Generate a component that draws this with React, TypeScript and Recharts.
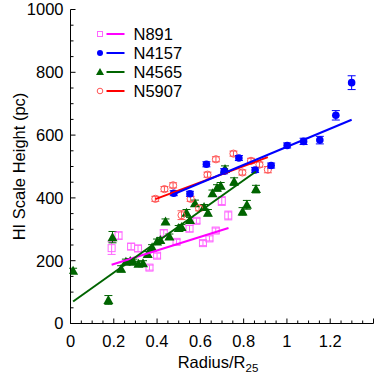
import React from "react";
import { ScatterChart, Scatter, XAxis, YAxis, ErrorBar, Legend } from "recharts";

// ---- data ----
const n891X = [0.19, 0.222, 0.28, 0.312, 0.365, 0.4, 0.431, 0.49, 0.55, 0.582, 0.612, 0.642, 0.671, 0.699, 0.729];
const n891Y = [240, 280, 245, 239, 178, 216, 288, 260, 302, 327, 256, 271, 296, 390, 344];
const n891E = [20, 12, 10, 10, 8, 8, 10, 8, 10, 8, 8, 8, 8, 14, 14];

const n4157X = [0.477, 0.552, 0.628, 0.71, 0.778, 0.853, 0.927, 1.001, 1.077, 1.152, 1.226, 1.299];
const n4157Y = [415, 413, 507, 485, 527, 489, 503, 567, 580, 584, 663, 767];
const n4157E = [8, 8, 8, 8, 8, 8, 8, 8, 10, 12, 15, 22];

const n4565X = [0.012, 0.175, 0.194, 0.234, 0.256, 0.276, 0.291, 0.314, 0.335, 0.357, 0.377, 0.4, 0.415, 0.439, 0.457, 0.5, 0.513, 0.536, 0.552, 0.575, 0.617, 0.635, 0.656, 0.677, 0.694, 0.714, 0.756, 0.795, 0.815, 0.857];
const n4565Y = [168, 75, 275, 174, 197, 199, 197, 190, 192, 221, 243, 261, 266, 325, 277, 304, 307, 353, 330, 383, 371, 353, 415, 432, 439, 492, 452, 357, 378, 428];
const n4565E = [8, 14, 18, 10, 8, 8, 8, 8, 8, 8, 8, 8, 8, 8, 8, 8, 8, 10, 8, 10, 8, 10, 10, 10, 10, 10, 12, 12, 14, 12];

const n5907X = [0.392, 0.434, 0.474, 0.513, 0.555, 0.594, 0.633, 0.672, 0.753, 0.794, 0.834, 0.873, 0.912];
const n5907Y = [397, 428, 440, 345, 397, 367, 474, 523, 541, 481, 518, 506, 490];
const n5907E = [8, 8, 8, 14, 8, 8, 8, 8, 8, 8, 8, 8, 10];

// linear fits: [x0, y0, x1, y1]
const fitN891 = [0.19, 187, 0.73, 304];
const fitN4157 = [0.47, 410, 1.299, 649];
const fitN4565 = [0.012, 70, 0.857, 484];
const fitN5907 = [0.392, 396, 0.912, 530];

const xMajorTicks = [0, 0.2, 0.4, 0.6, 0.8, 1, 1.2];
const yMajorTicks = [0, 200, 400, 600, 800, 1000];

const legendNames = ["N891", "N4157", "N4565", "N5907"];

// ---- helpers ----
const toPts = (xs: number[], ys: number[], es: number[]) => xs.map((x, i) => ({ x, y: ys[i], e: es[i] }));
const toLine = (f: number[]) => [{ x: f[0], y: f[1] }, { x: f[2], y: f[3] }];

const xTicks: number[] = [];
for (let i = 0; i <= 28; i++) xTicks.push(Math.round(i * 5) / 100);
const yTicks: number[] = [];
for (let i = 0; i <= 20; i++) yTicks.push(i * 50);

const FONT = "'Liberation Sans', Arial, Helvetica, sans-serif";
const FS = 16.5;
const MAJ = 5;
const MIN = 3;

const isXMajor = (v: number) => Math.round(v * 100) % 20 === 0;
const isYMajor = (v: number) => Math.round(v) % 200 === 0;
const fmtX = (v: number) => String(Math.round(v * 10) / 10);

const BottomTick = (p: any) => {
  const v = p.payload.value;
  const maj = isXMajor(v);
  const showLabel = maj && xMajorTicks.some((t) => Math.abs(t - v) < 1e-6);
  return (
    <g>
      <line x1={p.x} x2={p.x} y1={p.y} y2={p.y - (maj ? MAJ : MIN)} stroke="#000" strokeWidth={1} />
      {showLabel && (
        <text x={p.x} y={p.y + 23.5} textAnchor="middle" fontFamily={FONT} fontSize={FS} fill="#000">
          {fmtX(v)}
        </text>
      )}
    </g>
  );
};
const TopTick = (p: any) => {
  const v = p.payload.value;
  const maj = isXMajor(v);
  return <line x1={p.x} x2={p.x} y1={p.y} y2={p.y + (maj ? MAJ : MIN)} stroke="#000" strokeWidth={1} />;
};
const LeftTick = (p: any) => {
  const v = p.payload.value;
  const maj = isYMajor(v);
  const showLabel = maj && yMajorTicks.includes(Math.round(v));
  return (
    <g>
      <line x1={p.x} x2={p.x + (maj ? MAJ : MIN)} y1={p.y} y2={p.y} stroke="#000" strokeWidth={1} />
      {showLabel && (
        <text x={p.x - 7} y={p.y} dy="0.36em" textAnchor="end" fontFamily={FONT} fontSize={FS} fill="#000">
          {Math.round(v)}
        </text>
      )}
    </g>
  );
};
const RightTick = (p: any) => {
  const v = p.payload.value;
  const maj = isYMajor(v);
  return <line x1={p.x} x2={p.x - (maj ? MAJ : MIN)} y1={p.y} y2={p.y} stroke="#000" strokeWidth={1} />;
};

const SquareShape = (p: any) => (
  <rect x={p.cx - 3.5} y={p.cy - 3.5} width={7} height={7} fill="none" stroke="#ff66ff" strokeWidth={1} />
);
const BlueShape = (p: any) => <circle cx={p.cx} cy={p.cy} r={3.8} fill="#0000ff" stroke="none" />;
const TriShape = (p: any) => (
  <path d={`M${p.cx},${p.cy - 5} L${p.cx + 5},${p.cy + 4} L${p.cx - 5},${p.cy + 4} Z`} fill="#006400" stroke="none" />
);
const RedShape = (p: any) => (
  <circle cx={p.cx} cy={p.cy} r={3.6} fill="none" stroke="#ff5555" strokeWidth={1} />
);
const NoShape = () => <g />;

const LegendContent = () => {
  const rowY = [34, 53, 72, 91];
  const colors = ["#ff00ff", "#0000ff", "#006400", "#ff0000"];
  const markers = [
    (y: number) => <rect x={97.5} y={y - 2.5} width={5} height={5} fill="none" stroke="#ff66ff" strokeWidth={1} />,
    (y: number) => <circle cx={100} cy={y} r={3} fill="#0000ff" />,
    (y: number) => <path d={`M100,${y - 4} L104,${y + 3} L96,${y + 3} Z`} fill="#006400" />,
    (y: number) => <circle cx={100} cy={y} r={2.8} fill="none" stroke="#ff5555" strokeWidth={1} />,
  ];
  return (
    <svg width={374} height={110} style={{ position: "absolute", left: 0, top: 0 }}>
      {legendNames.map((n, i) => (
        <g key={n}>
          {markers[i](rowY[i])}
          <line x1={106.5} x2={124.5} y1={rowY[i]} y2={rowY[i]} stroke={colors[i]} strokeWidth={2} />
          <text x={133.5} y={rowY[i]} dy="0.36em" fontFamily={FONT} fontSize={FS} fill="#000">
            {n}
          </text>
        </g>
      ))}
    </svg>
  );
};

const XTitle = (p: any) => {
  const vb = p.viewBox;
  const cx = vb.x + vb.width / 2;
  return (
    <text x={cx - 4} y={368} textAnchor="middle" fontFamily={FONT} fontSize={FS} fill="#000">
      Radius/R
      <tspan fontSize={11.5} dy={4}>25</tspan>
    </text>
  );
};
const YTitle = (p: any) => {
  const vb = p.viewBox;
  const cy = vb.y + vb.height / 2;
  return (
    <text
      x={24.5}
      y={cy}
      transform={`rotate(-90, 24.5, ${cy})`}
      textAnchor="middle"
      fontFamily={FONT}
      fontSize={FS}
      fill="#000"
    >
      HI Scale Height (pc)
    </text>
  );
};

export default function App() {
  return (
    <div style={{ position: "absolute", left: 0, top: 0 }}>
      <ScatterChart width={374} height={377} margin={{ top: 9.5, right: 0.5, left: 0, bottom: 0 }}>
        <XAxis
          dataKey="x"
          type="number"
          domain={[0, 1.4]}
          ticks={xTicks}
          interval={0}
          tickSize={0}
          tickMargin={0}
          height={53.5}
          axisLine={{ stroke: "#000", strokeWidth: 1 }}
          tickLine={false}
          tick={<BottomTick />}
          allowDataOverflow
          label={{ content: <XTitle /> } as any}
        />
        <XAxis
          xAxisId="top"
          orientation="top"
          type="number"
          domain={[0, 1.4]}
          ticks={xTicks}
          interval={0}
          tickSize={0}
          tickMargin={0}
          height={0}
          axisLine={{ stroke: "#000", strokeWidth: 1 }}
          tickLine={false}
          tick={<TopTick />}
          allowDataOverflow
        />
        <YAxis
          dataKey="y"
          type="number"
          domain={[0, 1000]}
          ticks={yTicks}
          interval={0}
          tickSize={0}
          tickMargin={0}
          width={70.5}
          axisLine={{ stroke: "#000", strokeWidth: 1 }}
          tickLine={false}
          tick={<LeftTick />}
          allowDataOverflow
          label={{ content: <YTitle /> } as any}
        />
        <YAxis
          yAxisId="right"
          orientation="right"
          type="number"
          domain={[0, 1000]}
          ticks={yTicks}
          interval={0}
          tickSize={0}
          tickMargin={0}
          width={0}
          axisLine={{ stroke: "#000", strokeWidth: 1 }}
          tickLine={false}
          tick={<RightTick />}
          allowDataOverflow
        />
        <Legend layout="horizontal" verticalAlign="middle" align="center" wrapperStyle={{ left: 0, top: 0, width: 374, height: 110 }} content={<LegendContent />} />

        <Scatter name="N891" data={toPts(n891X, n891Y, n891E)} shape={<SquareShape />} isAnimationActive={false}>
          <ErrorBar dataKey="e" direction="y" width={4} stroke="#ff66ff" strokeWidth={1} />
        </Scatter>
        <Scatter name="N4565" data={toPts(n4565X, n4565Y, n4565E)} shape={<TriShape />} isAnimationActive={false}>
          <ErrorBar dataKey="e" direction="y" width={4} stroke="#006400" strokeWidth={1} />
        </Scatter>
        <Scatter name="N5907" data={toPts(n5907X, n5907Y, n5907E)} shape={<RedShape />} isAnimationActive={false}>
          <ErrorBar dataKey="e" direction="y" width={4} stroke="#ff5555" strokeWidth={1} />
        </Scatter>
        <Scatter name="N4157" data={toPts(n4157X, n4157Y, n4157E)} shape={<BlueShape />} isAnimationActive={false}>
          <ErrorBar dataKey="e" direction="y" width={4} stroke="#0000ff" strokeWidth={1} />
        </Scatter>

        <Scatter data={toLine(fitN891)} line={{ stroke: "#ff00ff", strokeWidth: 2 }} shape={<NoShape />} legendType="none" isAnimationActive={false} />
        <Scatter data={toLine(fitN4565)} line={{ stroke: "#006400", strokeWidth: 2 }} shape={<NoShape />} legendType="none" isAnimationActive={false} />
        <Scatter data={toLine(fitN5907)} line={{ stroke: "#ff0000", strokeWidth: 2 }} shape={<NoShape />} legendType="none" isAnimationActive={false} />
        <Scatter data={toLine(fitN4157)} line={{ stroke: "#0000ff", strokeWidth: 2 }} shape={<NoShape />} legendType="none" isAnimationActive={false} />
      </ScatterChart>
    </div>
  );
}
